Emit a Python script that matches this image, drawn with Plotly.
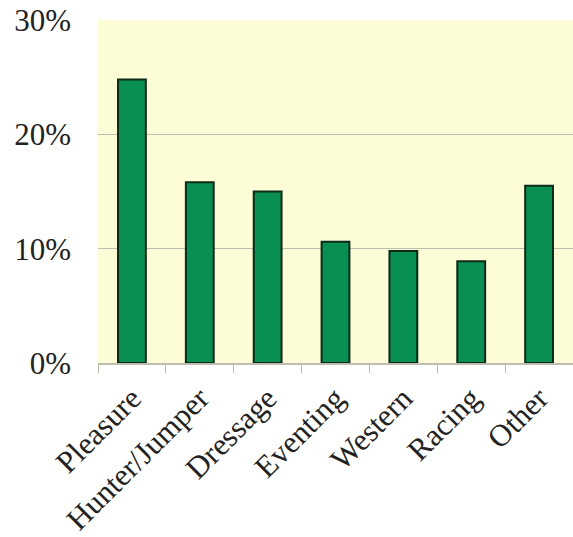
import plotly.graph_objects as go

categories = ["Pleasure", "Hunter/Jumper", "Dressage", "Eventing", "Western", "Racing", "Other"]
shares = [0.248, 0.158, 0.150, 0.106, 0.098, 0.089, 0.155]
y_ticks = [0, 0.1, 0.2, 0.3]
y_tick_labels = ["0%", "10%", "20%", "30%"]

fig = go.Figure(go.Bar(
    x=categories, y=shares,
    marker=dict(color="#0A8F52", line=dict(color="#0B2A18", width=2)),
    width=0.41,
))

fig.update_layout(
    width=573, height=537,
    margin=dict(l=98, r=0, t=20, b=174, autoexpand=False),
    paper_bgcolor="white",
    plot_bgcolor="#FCFDD6",
    showlegend=False,
    font=dict(family="Liberation Serif", color="#222"),
)
fig.update_yaxes(
    range=[0, 0.3], tickvals=y_ticks, ticktext=y_tick_labels,
    showgrid=True, gridcolor="#BDBDB0", gridwidth=1.2,
    zeroline=False, showline=False, automargin=False,
    tickfont=dict(size=31, family="Liberation Serif", color="#222"),
    ticks="", ticklabelstandoff=26,
)
fig.update_xaxes(
    tickangle=-45, automargin=False,
    tickfont=dict(size=31, family="Liberation Serif", color="#222"),
    showline=True, linecolor="#BDBDB0", linewidth=1.5,
    ticks="outside", ticklen=8, tickcolor="#BDBDB0", tickson="boundaries",
    showgrid=False, ticklabelstandoff=3,
)

fig.write_html("out.html")
